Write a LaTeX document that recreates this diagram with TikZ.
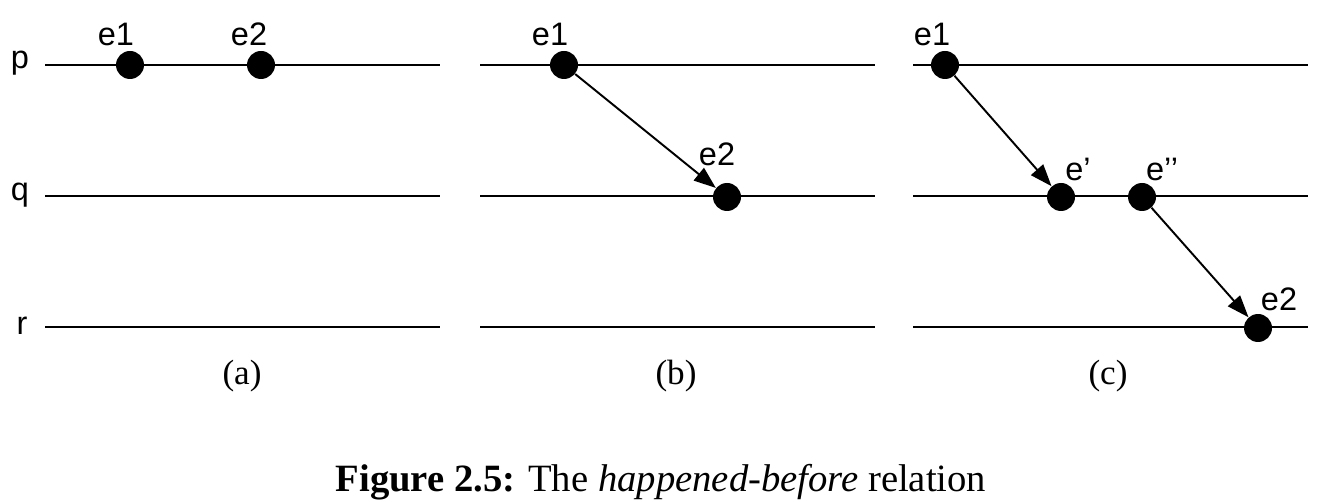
\documentclass[tikz,border=0pt]{standalone}
\usepackage{fontspec}
\setmainfont{Liberation Serif}
\newfontfamily\labelfont{Liberation Sans}
\usetikzlibrary{arrows.meta,positioning}

\begin{document}
\begin{tikzpicture}[x=0.02cm,y=-0.02cm,
    event/.style={circle,fill=black,inner sep=0pt,minimum size=0.56cm},
    lbl/.style={font=\labelfont\fontsize{18.5}{20}\selectfont},
    sub/.style={font=\fontsize{20}{22}\selectfont},
    proc/.style={line width=1.1pt},
    msg/.style={-{Triangle[length=0.44cm,width=0.32cm]},line width=1.1pt}]
    \useasboundingbox (0,0) rectangle (1337,502);

    % process names
    \node[lbl](p) at (20,63) {p};
    \node[lbl](q) at (20,195) {q};
    \node[lbl](r) at (22,326) {r};

    % time lines, one per process and panel
    \coordinate(pa0) at (45,65);   \coordinate(pa1) at (440,65);
    \coordinate(qa0) at (45,196);  \coordinate(qa1) at (440,196);
    \coordinate(ra0) at (45,327);  \coordinate(ra1) at (440,327);
    \coordinate(pb0) at (480,65);  \coordinate(pb1) at (875,65);
    \coordinate(qb0) at (480,196); \coordinate(qb1) at (875,196);
    \coordinate(rb0) at (480,327); \coordinate(rb1) at (875,327);
    \coordinate(pc0) at (913,65);  \coordinate(pc1) at (1308,65);
    \coordinate(qc0) at (913,196); \coordinate(qc1) at (1308,196);
    \coordinate(rc0) at (913,327); \coordinate(rc1) at (1308,327);
    \draw[proc] (pa0) -- (pa1); \draw[proc] (qa0) -- (qa1); \draw[proc] (ra0) -- (ra1);
    \draw[proc] (pb0) -- (pb1); \draw[proc] (qb0) -- (qb1); \draw[proc] (rb0) -- (rb1);
    \draw[proc] (pc0) -- (pc1); \draw[proc] (qc0) -- (qc1); \draw[proc] (rc0) -- (rc1);

    % (a)
    \node(a1) at (130,65) [event] {};
    \node(a2) at (261,65) [event] {};
    \node[lbl] at (116,34) {e1};
    \node[lbl] at (249,34) {e2};
    \node[sub](capa) at (242,376) {(a)};

    % (b)
    \node(b1) at (564,65) [event] {};
    \node(b2) at (727,197) [event] {};
    \node[lbl] at (550,34) {e1};
    \node[lbl] at (717,154) {e2};
    \draw (b1) edge[msg] (b2);
    \node[sub](capb) at (676,376) {(b)};

    % (c)
    \node(c1) at (945,65) [event] {};
    \node(c2) at (1061,197) [event] {};
    \node(c3) at (1142,197) [event] {};
    \node(c4) at (1258,328) [event] {};
    \node[lbl] at (932,34) {e1};
    \node[lbl] at (1078,169) {e’};
    \node[lbl] at (1162,169) {e’’};
    \node[lbl] at (1279,299) {e2};
    \draw (c1) edge[msg] (c2);
    \draw (c3) edge[msg] (c4);
    \node[sub](capc) at (1108,376) {(c)};

    \node(title) at (661,482) {\fontsize{22}{24}\selectfont\textbf{Figure 2.5:} The \textit{happened-before} relation};
\end{tikzpicture}
\end{document}
